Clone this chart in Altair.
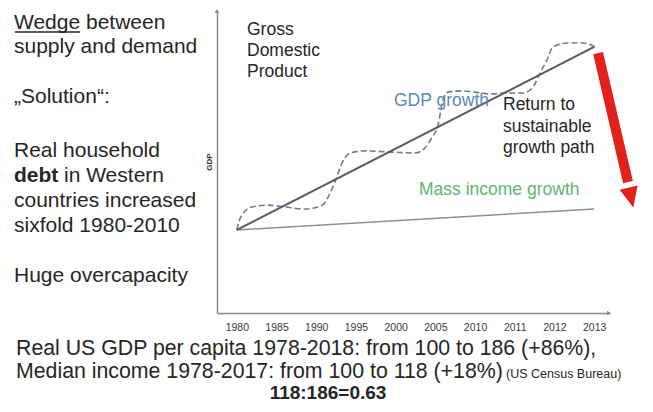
import altair as alt
import pandas as pd

FONT = "Liberation Sans"
TEXT = "#262626"

# ---------------- data ----------------
years = ["1980", "1985", "1990", "1995", "2000", "2005", "2010", "2011", "2012", "2013"]
tick_pos = list(range(len(years)))

# straight GDP trend and mass-income trend (schematic index)
gdp_x = [0, 9]
gdp_y = [27.4, 87.8]
income_x = [0, 9]
income_y = [27.4, 34.3]

# wavy "GDP growth" path
wave_x = [0, 0.10, 0.38, 0.79, 1.21, 1.72, 2.15, 2.35, 2.47, 2.65, 2.85, 3.23, 3.91,
          4.49, 4.74, 4.92, 5.07, 5.19, 5.32, 5.62, 6.0, 6.38, 6.80, 7.21, 7.46,
          7.64, 7.81, 7.96, 8.32, 8.72, 9.07]
wave_y = [27.4, 31.7, 35.0, 35.6, 35.0, 34.3, 35.6, 39.6, 43.2, 49.5, 52.8, 53.5, 53.1,
          52.8, 54.5, 58.1, 62.0, 70.3, 72.9, 73.3, 72.9, 72.3, 72.6, 72.6, 74.6,
          79.2, 83.5, 87.8, 89.1, 89.1, 87.5]

# red "return to sustainable growth path" arrow
arrow_start = [9.10, 85.8]
arrow_end = [9.853, 43.2]
arrow_head = [9.928, 38.1]

# ---------------- layout ----------------
OX, OY = 217, 10          # page position of plot origin
W, H = 393, 303

xs = alt.Scale(domain=[-0.5, 9.4], nice=False, zero=False)
ys = alt.Scale(domain=[0, 100], nice=False, zero=False)

label_expr = "[" + ",".join("'%s'" % y for y in years) + "][datum.value]"
xaxis = alt.Axis(values=tick_pos, labelExpr=label_expr, ticks=False, grid=False,
                 domainColor="#8a8a8a", domainWidth=1.5, labelFontSize=10.5,
                 labelColor="#3a3a3a", labelPadding=9, title=None, labelFont=FONT)
yaxis = alt.Axis(labels=False, ticks=False, grid=False, domainColor="#8a8a8a",
                 domainWidth=1.5, title="GDP", titleFontSize=8, titleFontWeight="bold",
                 titleColor="#333333", titlePadding=3.5, titleFont=FONT)

X = alt.X("x:Q", scale=xs, axis=xaxis)
Y = alt.Y("y:Q", scale=ys, axis=yaxis)

gdp_df = pd.DataFrame({"x": gdp_x, "y": gdp_y})
inc_df = pd.DataFrame({"x": income_x, "y": income_y})
wave_df = pd.DataFrame({"x": wave_x, "y": wave_y})

income_line = alt.Chart(inc_df).mark_line(color="#909090", strokeWidth=1.5).encode(x=X, y=Y)
wave_line = alt.Chart(wave_df).mark_line(color="#6b7c93", strokeWidth=1.6, strokeDash=[6, 3],
                                         interpolate="monotone").encode(x=X, y=Y)
gdp_line = alt.Chart(gdp_df).mark_line(color="#5a5a5a", strokeWidth=2).encode(x=X, y=Y)

arrow_df = pd.DataFrame({"x": [arrow_start[0]], "y": [arrow_start[1]],
                         "x2": [arrow_end[0]], "y2": [arrow_end[1]]})
arrow_shaft = alt.Chart(arrow_df).mark_rule(color="#e3211c", strokeWidth=10, strokeCap="butt").encode(
    x=X, y=Y, x2="x2:Q", y2="y2:Q")
head_df = pd.DataFrame({"x": [arrow_head[0]], "y": [arrow_head[1]]})
arrow_tip = alt.Chart(head_df).mark_point(shape="M-0.9,-1L0.9,-1L0,1Z", size=420, filled=True,
                                          opacity=1, color="#e3211c", angle=347).encode(x=X, y=Y)

one = pd.DataFrame({"t": [""]})
axis_arrow_up = alt.Chart(one).mark_point(shape="triangle-up", size=22, filled=True, opacity=1,
                                          color="#8a8a8a").encode(x=alt.value(0), y=alt.value(1))
axis_arrow_right = alt.Chart(one).mark_point(shape="triangle-right", size=22, filled=True, opacity=1,
                                             color="#8a8a8a").encode(x=alt.value(W - 1), y=alt.value(H))


def txt(s, x, y, size=21, color=TEXT, weight="normal", align="left"):
    return alt.Chart(pd.DataFrame({"t": [s]})).mark_text(
        align=align, baseline="alphabetic", fontSize=size, font=FONT,
        fontWeight=weight, color=color
    ).encode(text="t:N", x=alt.value(x - OX), y=alt.value(y - OY))


texts = [
    # left column
    txt("Wedge between", 14, 29),
    txt("supply and demand", 14, 53),
    txt("\u201eSolution\u201c:", 14, 103),
    txt("Real household", 14, 157),
    txt("debt", 14, 182, weight="bold"),
    txt("in Western", 64, 182),
    txt("countries increased", 14, 207),
    txt("sixfold 1980-2010", 14, 232),
    txt("Huge overcapacity", 14, 282),
    # inside plot
    txt("Gross", 247, 35, size=17.5),
    txt("Domestic", 247, 56, size=17.5),
    txt("Product", 247, 77, size=17.5),
    txt("GDP growth", 394, 106, size=17.5, color="#5a8ab5"),
    txt("Return to", 503, 110, size=17.5),
    txt("sustainable", 503, 132, size=17.5),
    txt("growth path", 503, 153, size=17.5),
    txt("Mass income growth", 419, 195, size=17.5, color="#5fb86a"),
    # bottom
    txt("Real US GDP per capita 1978-2018: from 100 to 186 (+86%),", 16, 355, size=21.3),
    txt("Median income 1978-2017: from 100 to 118 (+18%)", 16, 378, size=21.3),
    txt("(US Census Bureau)", 506, 378, size=12.5),
    txt("118:186=0.63", 328, 399, size=19, weight="bold", align="center"),
]

underline = alt.Chart(one).mark_rule(color=TEXT, strokeWidth=1.5).encode(
    x=alt.value(15 - OX), x2=alt.value(80 - OX), y=alt.value(32 - OY))

chart = alt.layer(
    income_line, wave_line, gdp_line, arrow_shaft, arrow_tip,
    axis_arrow_up, axis_arrow_right, underline, *texts
).properties(
    width=W, height=H,
    autosize=alt.AutoSizeParams(type="none"),
    padding={"left": OX - 8, "top": OY - 8, "right": 637 - (OX - 8) - W, "bottom": 396 - (OY - 8) - H},
    background="white",
).configure_view(stroke=None)

chart.save("out.html", embed_options={"renderer": "svg", "actions": False})
